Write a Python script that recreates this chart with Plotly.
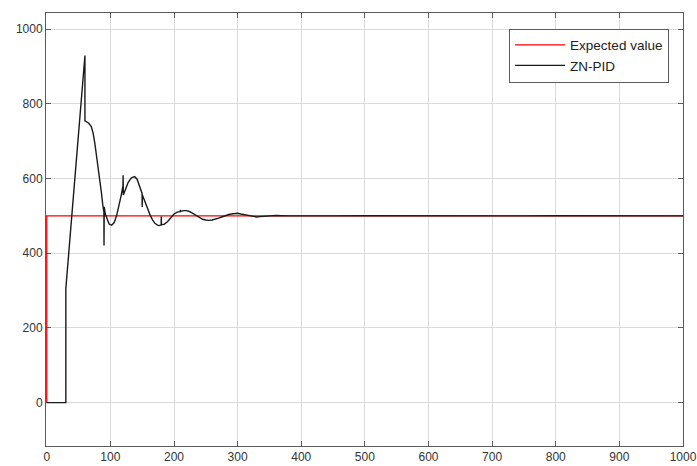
import plotly.graph_objects as go

# Setpoint (step to 500 at t = 0)
t_ref = [0, 0, 1000]
y_ref = [0, 500, 500]

# ZN-PID controller response
t_pid = [0, 30, 30, 60, 60, 63, 66, 70, 73, 75.5, 78, 80.7, 83, 86, 88, 89.8, 90, 90.3,
         92, 95, 98, 102, 106, 110, 114, 117, 119.8, 120, 120.3, 124, 128, 133, 138,
         142, 146, 149.8, 150, 150.3, 154, 158, 162, 166, 170, 174, 177, 179.8, 180,
         180.3, 185, 190, 195, 200, 205, 209.8, 210, 210.3, 215, 220, 225, 230, 235,
         240, 245, 250, 255, 260, 265, 270, 275, 280, 285, 290, 295, 300, 305, 310,
         315, 320, 325, 330, 335, 340, 345, 350, 360, 380, 400, 450, 500, 550, 600,
         650, 700, 750, 800, 850, 900, 950, 1000]
y_pid = [0, 0, 306, 929, 754, 752, 748, 739, 720, 695, 665, 632, 600, 561, 530, 510, 421, 524,
         505, 488, 478, 475, 482, 502, 530, 555, 580, 609, 556, 572, 590, 602, 605,
         598, 580, 560, 524, 556, 540, 520, 504, 490, 480, 475, 474, 476, 498,
         476, 478, 485, 495, 505, 510, 511, 516, 512, 514, 514, 511, 506, 501,
         496, 491, 489, 488, 489, 491, 494, 497, 501, 503, 505, 506, 507, 505, 503,
         501, 499, 498, 497, 498, 499, 500, 501, 501, 500, 500.5, 500, 500.5, 500, 500,
         500.5, 500, 500, 500.5, 500, 500, 500.5, 500]

fig = go.Figure()
fig.add_trace(go.Scatter(x=t_ref, y=y_ref, mode="lines", name="Expected value",
                         line=dict(color="#ff0000", width=1.3)))
fig.add_trace(go.Scatter(x=t_pid, y=y_pid, mode="lines", name="ZN-PID",
                         line=dict(color="#1a1a1a", width=1.4)))

axis_common = dict(
    showline=True, linecolor="#5a5a5a", linewidth=1, mirror="ticks",
    ticks="inside", ticklen=5, tickcolor="#5a5a5a", tickwidth=1,
    showgrid=True, gridcolor="#dadada", gridwidth=1, zeroline=False,
    layer="below traces", ticklabeloverflow="allow", automargin=False,
    tickfont=dict(family="Liberation Sans, Arial, sans-serif", size=12, color="#333333"),
)

fig.update_xaxes(range=[-1.2, 1000], tickvals=list(range(0, 1001, 100)), **axis_common)
fig.update_yaxes(range=[-116, 1043], tickvals=list(range(0, 1001, 200)), **axis_common)

fig.update_layout(
    width=697, height=466,
    margin=dict(l=46, r=14, t=13, b=20),
    paper_bgcolor="white", plot_bgcolor="white",
    showlegend=True,
    legend=dict(x=0.727, y=0.964, xanchor="left", yanchor="top",
                bgcolor="white", bordercolor="#5a5a5a", borderwidth=1,
                font=dict(family="Liberation Sans, Arial, sans-serif", size=13.5, color="#222222"),
                tracegroupgap=0, itemwidth=50),
)

fig.write_html("out.html")
